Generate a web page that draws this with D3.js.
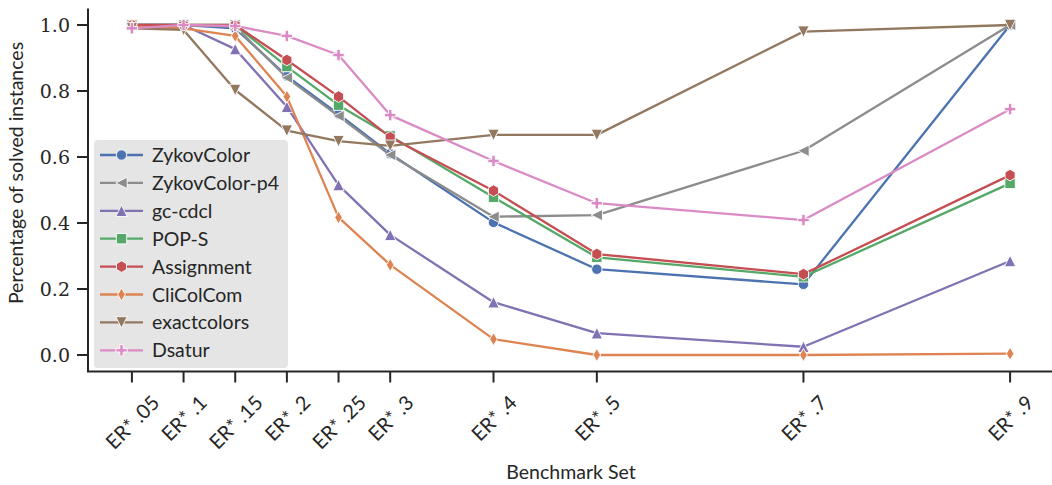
<!DOCTYPE html>
<html>
<head>
<meta charset="utf-8">
<script src="https://cdn.jsdelivr.net/npm/d3@7"></script>
<style>
  body { margin: 0; background: #fff; }
  svg { display: block; }
</style>
</head>
<body>
<div id="chart"></div>
<script>
// benchmark sets (edge density) and their labels
var xValues = [0.05, 0.1, 0.15, 0.2, 0.25, 0.3, 0.4, 0.5, 0.7, 0.9];
var xLabels = ["ER* .05", "ER* .1", "ER* .15", "ER* .2", "ER* .25", "ER* .3", "ER* .4", "ER* .5", "ER* .7", "ER* .9"];
var yTicks = [0.0, 0.2, 0.4, 0.6, 0.8, 1.0];

// solved fraction per algorithm
var zykovColor   = [1.0, 1.0, 0.99, 0.845, 0.73, 0.61, 0.402, 0.26, 0.214, 1.0];
var zykovColorP4 = [1.0, 1.0, 0.995, 0.84, 0.724, 0.606, 0.419, 0.424, 0.619, 1.0];
var gcCdcl       = [1.0, 1.0, 0.927, 0.752, 0.515, 0.364, 0.16, 0.066, 0.025, 0.285];
var popS         = [1.0, 1.0, 1.0, 0.874, 0.757, 0.664, 0.478, 0.296, 0.237, 0.52];
var assignment   = [1.0, 1.0, 1.0, 0.894, 0.783, 0.66, 0.498, 0.306, 0.245, 0.545];
var cliColCom    = [0.995, 0.99, 0.967, 0.783, 0.417, 0.273, 0.048, 0.0, 0.0, 0.004];
var exactcolors  = [0.99, 0.985, 0.803, 0.68, 0.648, 0.634, 0.667, 0.667, 0.98, 1.0];
var dsatur       = [0.99, 1.0, 0.997, 0.967, 0.909, 0.727, 0.588, 0.46, 0.409, 0.745];

var seriesNames = ["ZykovColor", "ZykovColor-p4", "gc-cdcl", "POP-S", "Assignment", "CliColCom", "exactcolors", "Dsatur"];
var seriesValues = [zykovColor, zykovColorP4, gcCdcl, popS, assignment, cliColCom, exactcolors, dsatur];
var seriesColors = ["#4c72b0", "#8c8c8c", "#8172b3", "#55a868", "#c44e52", "#dd8452", "#937860", "#da8bc3"];
var seriesMarkers = ["circle", "left", "up", "square", "hexagon", "thindiamond", "down", "plus"];

var W = 1052, H = 485;
var svg = d3.select("#chart").append("svg").attr("width", W).attr("height", H);

var x = d3.scaleLinear().domain([0.0075, 0.9425]).range([88, 1054]);
var y = d3.scaleLinear().domain([-0.05, 1.05]).range([371.5, 8.5]);

// marker paths
function markerPath(kind) {
  var p = d3.path();
  var s;
  if (kind == "circle") {
    p.arc(0, 0, 5.2, 0, 2 * Math.PI);
  } else if (kind == "left") {
    s = 5.7; p.moveTo(-s, 0); p.lineTo(s, -s); p.lineTo(s, s); p.closePath();
  } else if (kind == "up") {
    s = 5.7; p.moveTo(0, -s); p.lineTo(-s, s); p.lineTo(s, s); p.closePath();
  } else if (kind == "down") {
    s = 5.7; p.moveTo(0, s); p.lineTo(-s, -s); p.lineTo(s, -s); p.closePath();
  } else if (kind == "square") {
    s = 5.2; p.rect(-s, -s, 2 * s, 2 * s);
  } else if (kind == "hexagon") {
    s = 5.8;
    for (var k = 0; k < 6; k++) {
      var a = -Math.PI / 2 + k * Math.PI / 3;
      if (k == 0) p.moveTo(s * Math.cos(a), s * Math.sin(a));
      else p.lineTo(s * Math.cos(a), s * Math.sin(a));
    }
    p.closePath();
  } else if (kind == "thindiamond") {
    s = 6.4; p.moveTo(0, -s); p.lineTo(0.6 * s, 0); p.lineTo(0, s); p.lineTo(-0.6 * s, 0); p.closePath();
  } else if (kind == "plus") {
    s = 5.7; var t = 1.7;
    p.moveTo(-t, -s); p.lineTo(t, -s); p.lineTo(t, -t); p.lineTo(s, -t); p.lineTo(s, t);
    p.lineTo(t, t); p.lineTo(t, s); p.lineTo(-t, s); p.lineTo(-t, t); p.lineTo(-s, t);
    p.lineTo(-s, -t); p.lineTo(-t, -t); p.closePath();
  }
  return p.toString();
}

// lines + markers
var line = d3.line()
  .x(function(d, i) { return x(xValues[i]); })
  .y(function(d) { return y(d); });

seriesValues.forEach(function(vals, si) {
  var g = svg.append("g").attr("class", "series");
  g.append("path")
    .attr("d", line(vals))
    .attr("fill", "none")
    .attr("stroke", seriesColors[si])
    .attr("stroke-width", 2.3)
    .attr("stroke-linejoin", "round");
  g.selectAll("path.mk")
    .data(vals)
    .enter()
    .append("path")
    .attr("class", "mk")
    .attr("d", markerPath(seriesMarkers[si]))
    .attr("transform", function(d, i) { return "translate(" + x(xValues[i]) + "," + y(d) + ")"; })
    .attr("fill", seriesColors[si])
    .attr("stroke", "#fff")
    .attr("stroke-width", 0.9);
});

// axes
var axisColor = "#262626";
svg.append("line").attr("x1", 88).attr("x2", 88).attr("y1", y(1.05)).attr("y2", y(-0.05))
  .attr("stroke", axisColor).attr("stroke-width", 2);
svg.append("line").attr("x1", 87).attr("x2", W).attr("y1", y(-0.05)).attr("y2", y(-0.05))
  .attr("stroke", axisColor).attr("stroke-width", 2);

var yt = svg.selectAll(".ytick").data(yTicks).enter().append("g")
  .attr("transform", function(d) { return "translate(88," + y(d) + ")"; });
yt.append("line").attr("x1", -11).attr("x2", 0).attr("stroke", axisColor).attr("stroke-width", 2);
yt.append("text")
  .attr("x", -18).attr("dy", "0.36em")
  .attr("text-anchor", "end")
  .style("font-family", "'DejaVu Serif', serif")
  .style("font-size", "19px")
  .style("fill", "#262626")
  .text(function(d) { return d.toFixed(1); });

var xt = svg.selectAll(".xtick").data(xValues).enter().append("g")
  .attr("transform", function(d) { return "translate(" + x(d) + "," + y(-0.05) + ")"; });
xt.append("line").attr("y1", 0).attr("y2", 11).attr("stroke", axisColor).attr("stroke-width", 2);
xt.append("text")
  .attr("text-anchor", "middle")
  .attr("dominant-baseline", "central")
  .style("font-family", "Lato, sans-serif")
  .style("font-size", "20px")
  .style("fill", "#262626")
  .text(function(d, i) { return xLabels[i]; })
  .each(function() {
    // centre the rotated box under the tick, top edge at a fixed gap
    var L = this.getComputedTextLength();
    var h = 14;
    var cy = 22 + (L + h) / 2 * Math.SQRT1_2;
    d3.select(this).attr("transform", "translate(0," + cy + ") rotate(-45)");
  });

// axis labels
svg.append("text")
  .attr("x", 571).attr("y", 479)
  .attr("text-anchor", "middle")
  .style("font-family", "Lato, sans-serif")
  .style("font-size", "19.5px")
  .style("fill", "#262626")
  .text("Benchmark Set");

svg.append("text")
  .attr("transform", "translate(23,173) rotate(-90)")
  .attr("text-anchor", "middle")
  .style("font-family", "Lato, sans-serif")
  .style("font-size", "19.5px")
  .style("fill", "#262626")
  .text("Percentage of solved instances");

// legend
var legend = svg.append("g");
legend.append("rect")
  .attr("x", 94).attr("y", 140).attr("width", 194).attr("height", 228)
  .attr("rx", 4)
  .attr("fill", "#e5e5e5");
seriesNames.forEach(function(name, si) {
  var ly = 155 + si * 27.9;
  legend.append("line").attr("x1", 100).attr("x2", 143).attr("y1", ly).attr("y2", ly)
    .attr("stroke", seriesColors[si]).attr("stroke-width", 2.3);
  legend.append("path").attr("d", markerPath(seriesMarkers[si]))
    .attr("transform", "translate(121.5," + ly + ")")
    .attr("fill", seriesColors[si]).attr("stroke", "#fff").attr("stroke-width", 0.9);
  legend.append("text")
    .attr("x", 152).attr("y", ly).attr("dy", "0.36em")
    .style("font-family", "Lato, sans-serif")
    .style("font-size", "19.5px")
    .style("fill", "#262626")
    .text(name);
});
</script>
</body>
</html>
